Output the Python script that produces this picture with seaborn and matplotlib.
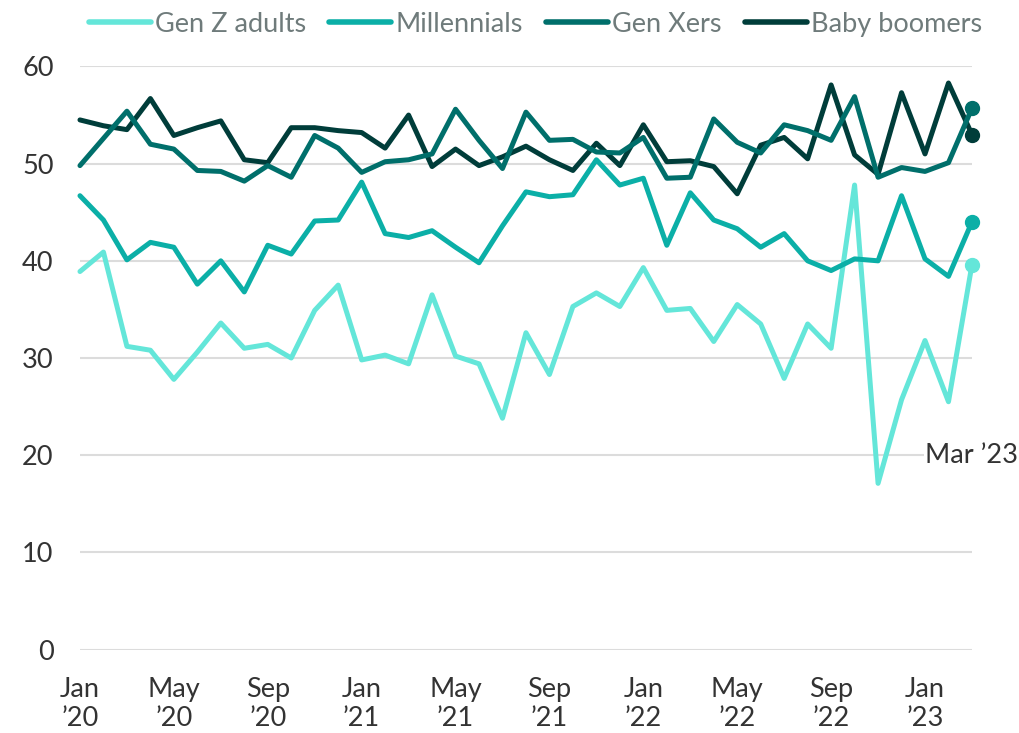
import numpy as np
import pandas as pd
import matplotlib.pyplot as plt
import seaborn as sns

# monthly values, Jan 2020 .. Mar 2023
months = pd.date_range('2020-01-01', '2023-03-01', freq='MS')

gen_z = [38.9, 40.9, 31.2, 30.8, 27.8, 30.6, 33.6, 31.0, 31.4, 30.0, 34.9, 37.5, 29.8,
         30.3, 29.4, 36.5, 30.2, 29.4, 23.8, 32.6, 28.3, 35.3, 36.7, 35.3, 39.3,
         34.9, 35.1, 31.7, 35.5, 33.5, 27.9, 33.5, 31.0, 47.8, 17.1, 25.7, 31.8, 25.5, 39.6]
millennials = [46.7, 44.2, 40.1, 41.9, 41.4, 37.6, 40.0, 36.8, 41.6, 40.7, 44.1, 44.2, 48.1,
               42.8, 42.4, 43.1, 41.4, 39.8, 43.6, 47.1, 46.6, 46.8, 50.4, 47.8, 48.5,
               41.6, 47.0, 44.2, 43.3, 41.4, 42.8, 40.0, 39.0, 40.2, 40.0, 46.7, 40.2, 38.4, 44.0]
gen_x = [49.8, 52.6, 55.4, 52.0, 51.5, 49.3, 49.2, 48.2, 49.8, 48.6, 52.9, 51.6, 49.1,
         50.2, 50.4, 51.0, 55.6, 52.4, 49.5, 55.3, 52.4, 52.5, 51.2, 51.1, 52.7,
         48.5, 48.6, 54.6, 52.2, 51.1, 54.0, 53.4, 52.4, 56.9, 48.6, 49.6, 49.2, 50.1, 55.7]
boomers = [54.5, 53.9, 53.5, 56.7, 52.9, 53.7, 54.4, 50.4, 50.1, 53.7, 53.7, 53.4, 53.2,
           51.6, 55.0, 49.7, 51.5, 49.8, 50.7, 51.8, 50.4, 49.3, 52.1, 49.8, 54.0,
           50.2, 50.3, 49.7, 46.9, 51.9, 52.7, 50.5, 58.1, 50.9, 48.9, 57.3, 51.0, 58.3, 53.0]

series = {'Gen Z adults': gen_z, 'Millennials': millennials,
          'Gen Xers': gen_x, 'Baby boomers': boomers}
colors = {'Gen Z adults': '#64E6D9', 'Millennials': '#0BAFA7',
          'Gen Xers': '#006F6B', 'Baby boomers': '#003D3A'}
zorders = {'Gen Z adults': 3, 'Baby boomers': 4, 'Gen Xers': 5, 'Millennials': 6}

df = pd.DataFrame({'month': np.arange(len(months))})
for k, v in series.items():
    df[k] = v
long = df.melt(id_vars='month', var_name='group', value_name='value')

sns.set_style('white')
plt.rcParams['font.family'] = ['Lato', 'DejaVu Sans']
fs = 19.5

fig = plt.figure(figsize=(10.2, 7.33), dpi=100)
ax = fig.add_axes([0.0784, 0.1139, 0.8745, 0.7954])

for name in series:
    sub = long[long['group'] == name]
    sns.lineplot(data=sub, x='month', y='value', ax=ax, color=colors[name], lw=3.6,
                 label=name, zorder=zorders[name], clip_on=False, solid_joinstyle='round',
                 solid_capstyle='round')
    last = sub.iloc[-1]
    ax.plot(last['month'], last['value'], 'o', ms=10, color=colors[name],
            zorder=zorders[name] + 5, clip_on=False)

ax.set_xlim(0, len(months) - 1)
ax.set_ylim(0, 60)
ax.set_yticks(range(0, 61, 10))
tick_pos = list(range(0, len(months), 4))
ax.set_xticks(tick_pos)
ax.set_xticklabels([months[i].strftime('%b') + '\n\u2019' + months[i].strftime('%y') for i in tick_pos],
                   linespacing=1.2)
ax.grid(axis='y', color='#dcdcdc', lw=1.5)
ax.grid(axis='x', visible=False)
for s in ax.spines.values():
    s.set_visible(False)
ax.tick_params(axis='both', length=0, labelsize=fs, colors='#333333')
ax.tick_params(axis='y', pad=19)
ax.tick_params(axis='x', pad=20)
ax.set_xlabel('')
ax.set_ylabel('')

ax.text(len(months) - 1, 20, 'Mar \u201923', ha='center', va='center', fontsize=fs,
        color='#333333', zorder=20,
        bbox=dict(facecolor='white', edgecolor='none', pad=1))

handles, labels = ax.get_legend_handles_labels()
ax.get_legend().remove()
order = ['Gen Z adults', 'Millennials', 'Gen Xers', 'Baby boomers']
hmap = dict(zip(labels, handles))
leg = fig.legend([hmap[o] for o in order], order, loc='upper center', bbox_to_anchor=(0.525, 1.017),
                 ncol=4, frameon=False, fontsize=fs, handlelength=2.3, handletextpad=0.15,
                 columnspacing=0.85, labelcolor='#6f7b7b')
for h in leg.legend_handles:
    h.set_solid_capstyle('round')
    h.set_linewidth(4)

plt.savefig('out.png', dpi=100)
